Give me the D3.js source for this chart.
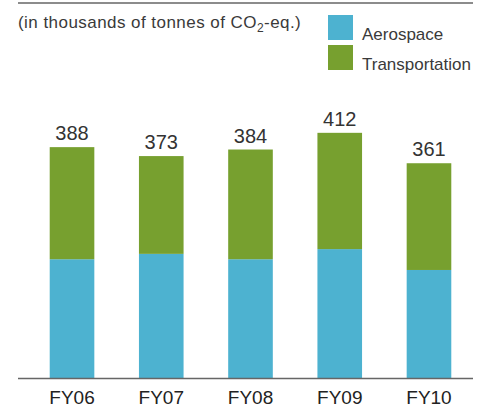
<!DOCTYPE html>
<html>
<head>
<meta charset="utf-8">
<script src="https://cdn.jsdelivr.net/npm/d3@7"></script>
<style>
body{margin:0;background:#fff;}
svg{display:block;font-family:"Liberation Sans",Arial,sans-serif;}
</style>
</head>
<body>
<div id="chart"></div>
<script>
const categories = ["FY06","FY07","FY08","FY09","FY10"];
const aerospace = [200, 209, 200, 217, 182];
const transportation = [188, 164, 184, 195, 179];
const totals = [388, 373, 384, 412, 361];
const seriesNames = ["Aerospace","Transportation"];
const colors = ["#4db2d0","#77a02f"];

const W = 488, H = 407;
const svg = d3.select("#chart").append("svg").attr("width", W).attr("height", H);

const x = d3.scaleBand().domain(categories).range([27.4, 473.6]).paddingInner(0.5).paddingOuter(0.25);
const y = d3.scaleLinear().domain([0, 450]).range([378.5, 378.5 - 450 * 0.5963]);

const data = categories.map((c, i) => ({cat: c, Aerospace: aerospace[i], Transportation: transportation[i], total: totals[i]}));
const stacked = d3.stack().keys(seriesNames)(data);

// top rule
svg.append("line").attr("x1", 18).attr("x2", 473).attr("y1", 3).attr("y2", 3)
  .attr("stroke", "#8c8c8c").attr("stroke-width", 2);

// title
const t = svg.append("text").attr("x", 18).attr("y", 28).attr("font-size", 17)
  .attr("letter-spacing", 0.45).attr("fill", "#3a3a3a");
t.append("tspan").text("(in thousands of tonnes of CO");
t.append("tspan").attr("font-size", 12).attr("dy", 4).text("2");
t.append("tspan").attr("dy", -4).text("-eq.)");

// legend
seriesNames.forEach((s, i) => {
  svg.append("rect").attr("x", 328).attr("y", 15 + i * 30).attr("width", 25).attr("height", 25).attr("fill", colors[i]);
  svg.append("text").attr("x", 362).attr("y", 39.5 + i * 30).attr("font-size", 17).attr("fill", "#3a3a3a").text(s);
});

// bars
svg.append("g").selectAll("g").data(stacked).join("g").attr("fill", (d, i) => colors[i])
  .selectAll("rect").data(d => d).join("rect")
  .attr("x", d => x(d.data.cat))
  .attr("width", x.bandwidth())
  .attr("y", d => y(d[1]))
  .attr("height", d => y(d[0]) - y(d[1]));

// totals
svg.append("g").selectAll("text").data(data).join("text")
  .attr("x", d => x(d.cat) + x.bandwidth() / 2)
  .attr("y", d => y(d.total) - 7)
  .attr("text-anchor", "middle").attr("font-size", 20).attr("fill", "#333")
  .text(d => d.total);

// x axis
const ax = svg.append("g").attr("transform", "translate(0,378.5)")
  .call(d3.axisBottom(x).tickSize(0));
ax.select(".domain").remove();
ax.selectAll("text").attr("y", 25).attr("dy", null).attr("font-size", 19).attr("fill", "#222")
  .attr("font-family", "'Liberation Sans',Arial,sans-serif");
svg.append("line").attr("x1", 18).attr("x2", 473).attr("y1", 378.5).attr("y2", 378.5)
  .attr("stroke", "#666").attr("stroke-width", 1.5);
</script>
</body>
</html>
